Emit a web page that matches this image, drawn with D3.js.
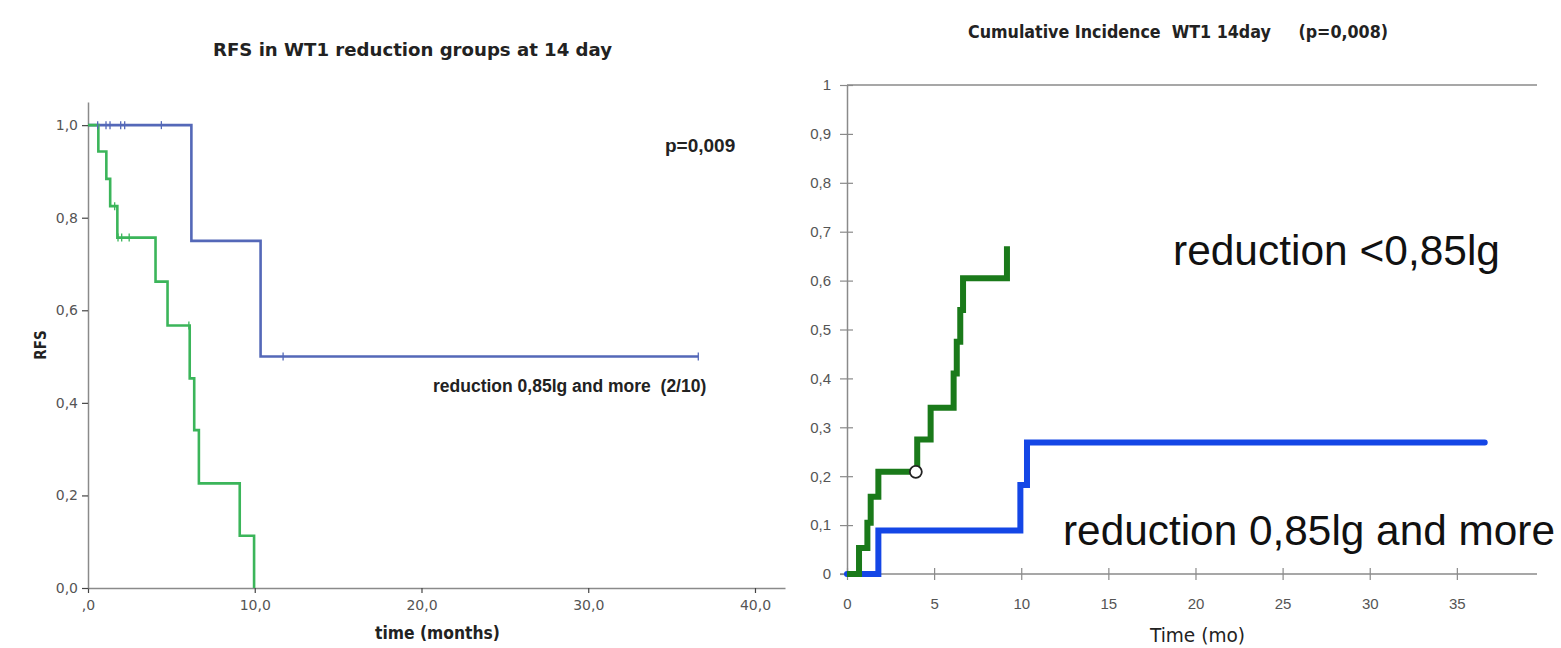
<!DOCTYPE html>
<html>
<head>
<meta charset="utf-8">
<script src="https://cdn.jsdelivr.net/npm/d3@7"></script>
<style>
  body { margin: 0; background: #fff; }
  .narrow { font-family: "Liberation Sans Narrow", "DejaVu Sans Condensed", "Arial Narrow", "DejaVu Sans", sans-serif; }
</style>
</head>
<body>
<svg id="chart" width="1561" height="648"></svg>
<script>
// ---- left panel: RFS (Kaplan-Meier) ----
var rfsBlueTime = [0, 6.2, 10.35, 36.6];
var rfsBlueSurv = [1, 0.75, 0.5, 0.5];
var rfsGreenTime = [0, 0.62, 1.1, 1.33, 1.76, 4.05, 4.77, 6.1, 6.37, 6.65, 9.1, 9.96];
var rfsGreenSurv = [1, 0.943, 0.884, 0.825, 0.757, 0.662, 0.567, 0.453, 0.341, 0.226, 0.113, 0];
// censored observations
var rfsBlueCensT = [0.58, 1.08, 1.32, 1.96, 2.2, 4.4, 11.7, 36.6];
var rfsBlueCensS = [1, 1, 1, 1, 1, 1, 0.5, 0.5];
var rfsGreenCensT = [1.6, 1.8, 2.02, 2.47, 6.05];
var rfsGreenCensS = [0.825, 0.757, 0.757, 0.757, 0.567];
var rfsXTicks = [0, 10, 20, 30, 40];
var rfsXLabels = [",0", "10,0", "20,0", "30,0", "40,0"];
var rfsYTicks = [0, 0.2, 0.4, 0.6, 0.8, 1.0];
var rfsYLabels = ["0,0", "0,2", "0,4", "0,6", "0,8", "1,0"];

// ---- right panel: cumulative incidence ----
var ciGreenTime = [0, 0.69, 1.17, 1.36, 1.8, 4.03, 4.8, 6.12, 6.3, 6.5, 6.66, 9.18];
var ciGreenVal = [0, 0.053, 0.105, 0.158, 0.209, 0.275, 0.34, 0.41, 0.475, 0.54, 0.605, 0.67];
var ciBlueTime = [0, 1.8, 9.95, 10.33, 36.6];
var ciBlueVal = [0, 0.089, 0.182, 0.269, 0.269];
var ciCensT = [3.95];
var ciCensV = [0.209];
var ciXTicks = [0, 5, 10, 15, 20, 25, 30, 35];
var ciYTicks = [0, 0.1, 0.2, 0.3, 0.4, 0.5, 0.6, 0.7, 0.8, 0.9, 1];
var ciYLabels = ["0", "0,1", "0,2", "0,3", "0,4", "0,5", "0,6", "0,7", "0,8", "0,9", "1"];

function zip(a, b) { return a.map(function(d, i) { return [d, b[i]]; }); }

var svg = d3.select("#chart");

// ================= LEFT =================
var x1 = d3.scaleLinear().domain([0, 41.8]).range([88, 785]);
var y1 = d3.scaleLinear().domain([0, 1.05]).range([588, 102]);

var gl = svg.append("g");

var xAx1 = gl.append("g")
  .attr("transform", "translate(0,588)")
  .call(d3.axisBottom(x1).tickValues(rfsXTicks).tickSize(5).tickSizeOuter(0)
    .tickFormat(function(d, i) { return rfsXLabels[i]; }));
var yAx1 = gl.append("g")
  .attr("transform", "translate(88,0)")
  .call(d3.axisLeft(y1).tickValues(rfsYTicks).tickSize(6).tickSizeOuter(0)
    .tickFormat(function(d, i) { return rfsYLabels[i]; }));
[xAx1, yAx1].forEach(function(a) {
  a.attr("font-family", "DejaVu Sans, sans-serif").attr("font-size", 14);
  a.select(".domain").attr("stroke", "#8a8a8a").attr("stroke-width", 1.5);
  a.selectAll(".tick line").attr("stroke", "#444").attr("stroke-width", 1.2);
  a.selectAll("text").attr("fill", "#555");
});
xAx1.selectAll("text").attr("dy", "1.0em");
yAx1.selectAll("text").attr("dx", "-1");

var step = d3.line().curve(d3.curveStepAfter)
  .x(function(d) { return x1(d[0]); }).y(function(d) { return y1(d[1]); });

gl.append("path").datum(zip(rfsBlueTime, rfsBlueSurv))
  .attr("d", step).attr("fill", "none").attr("stroke", "#5468b8").attr("stroke-width", 2.6);
gl.append("path").datum(zip(rfsGreenTime, rfsGreenSurv))
  .attr("d", step).attr("fill", "none").attr("stroke", "#3bb55a").attr("stroke-width", 2.6);

gl.selectAll(".cb").data(zip(rfsBlueCensT, rfsBlueCensS)).enter().append("line")
  .attr("x1", function(d) { return x1(d[0]); }).attr("x2", function(d) { return x1(d[0]); })
  .attr("y1", function(d) { return y1(d[1]) - 4; }).attr("y2", function(d) { return y1(d[1]) + 4; })
  .attr("stroke", "#5468b8").attr("stroke-width", 1.3);
gl.selectAll(".cg").data(zip(rfsGreenCensT, rfsGreenCensS)).enter().append("line")
  .attr("x1", function(d) { return x1(d[0]); }).attr("x2", function(d) { return x1(d[0]); })
  .attr("y1", function(d) { return y1(d[1]) - 4; }).attr("y2", function(d) { return y1(d[1]) + 4; })
  .attr("stroke", "#3bb55a").attr("stroke-width", 1.3);

gl.append("text").attr("class", "narrow").attr("x", 213).attr("y", 56)
  .attr("font-weight", "bold").attr("font-size", 18).attr("fill", "#222")
  .attr("textLength", 399).attr("lengthAdjust", "spacingAndGlyphs")
  .text("RFS in WT1 reduction groups at 14 day");
gl.append("text").attr("x", 665).attr("y", 152)
  .attr("font-family", "Liberation Sans, Arial, sans-serif").attr("font-weight", "bold").attr("font-size", 19).attr("fill", "#222")
  .text("p=0,009");
gl.append("text").attr("x", 433).attr("y", 392)
  .attr("font-family", "Liberation Sans, Arial, sans-serif").attr("font-weight", "bold").attr("font-size", 17.5).attr("fill", "#222")
  .attr("xml:space", "preserve")
  .text("reduction 0,85lg and more  (2/10)");
gl.append("text").attr("class", "narrow").attr("x", 375).attr("y", 639)
  .attr("font-weight", "bold").attr("font-size", 17.5).attr("fill", "#222")
  .attr("textLength", 125).attr("lengthAdjust", "spacingAndGlyphs")
  .text("time (months)");
gl.append("text").attr("class", "narrow")
  .attr("transform", "translate(46,345) rotate(-90)")
  .attr("text-anchor", "middle").attr("font-weight", "bold").attr("font-size", 15).attr("fill", "#222")
  .text("RFS");

// ================= RIGHT =================
var x2 = d3.scaleLinear().domain([0, 39.6]).range([847, 1537]);
var y2 = d3.scaleLinear().domain([0, 1]).range([574, 85]);

var gr = svg.append("g");

// top border line at 1
gr.append("line").attr("x1", x2(0)).attr("x2", x2(39.6)).attr("y1", y2(1)).attr("y2", y2(1))
  .attr("stroke", "#8a8a8a").attr("stroke-width", 1.5);

var xAx2 = gr.append("g")
  .attr("transform", "translate(0,574)")
  .call(d3.axisBottom(x2).tickValues(ciXTicks).tickSize(7).tickSizeOuter(0).tickFormat(d3.format("d")));
var yAx2 = gr.append("g")
  .attr("transform", "translate(847,0)")
  .call(d3.axisLeft(y2).tickValues(ciYTicks).tickSize(7).tickSizeOuter(0)
    .tickFormat(function(d, i) { return ciYLabels[i]; }));
xAx2.select(".domain").attr("d", "M" + (x2(0) - 7) + ",0H" + x2(39.6));
[xAx2, yAx2].forEach(function(a) {
  a.attr("font-family", "Liberation Sans, Arial, sans-serif").attr("font-size", 15);
  a.select(".domain").attr("stroke", "#8a8a8a").attr("stroke-width", 1.5);
  a.selectAll(".tick line").attr("stroke", "#8a8a8a").attr("stroke-width", 1.2);
  a.selectAll("text").attr("fill", "#555");
});
// ticks cross the axis
xAx2.selectAll(".tick line").attr("y1", -6).attr("y2", 6);
yAx2.selectAll(".tick line").attr("x1", -7).attr("x2", 6);
xAx2.selectAll("text").attr("y", 24);
yAx2.selectAll("text").attr("x", -16);

var step2 = d3.line().curve(d3.curveStepAfter)
  .x(function(d) { return x2(d[0]); }).y(function(d) { return y2(d[1]); });

gr.append("path").datum(zip(ciBlueTime, ciBlueVal))
  .attr("d", step2).attr("fill", "none").attr("stroke", "#1446e6").attr("stroke-width", 6)
  .attr("stroke-linecap", "round");
gr.append("path").datum(zip(ciGreenTime, ciGreenVal))
  .attr("d", step2).attr("fill", "none").attr("stroke", "#1a7a1a").attr("stroke-width", 6);

gr.selectAll(".cc").data(zip(ciCensT, ciCensV)).enter().append("circle")
  .attr("cx", function(d) { return x2(d[0]); }).attr("cy", function(d) { return y2(d[1]); })
  .attr("r", 6).attr("fill", "#fff").attr("stroke", "#222").attr("stroke-width", 1.8);

gr.append("text").attr("class", "narrow").attr("x", 968).attr("y", 38)
  .attr("font-weight", "bold").attr("font-size", 18).attr("fill", "#222")
  .attr("xml:space", "preserve")
  .attr("textLength", 420).attr("lengthAdjust", "spacingAndGlyphs")
  .text("Cumulative Incidence  WT1 14day     (p=0,008)");
gr.append("text").attr("x", 1173).attr("y", 265)
  .attr("font-family", "Liberation Sans, Arial, sans-serif").attr("font-size", 42).attr("fill", "#111")
  .attr("textLength", 327).attr("lengthAdjust", "spacingAndGlyphs")
  .text("reduction <0,85lg");
gr.append("text").attr("x", 1063).attr("y", 545)
  .attr("font-family", "Liberation Sans, Arial, sans-serif").attr("font-size", 42).attr("fill", "#111")
  .attr("textLength", 492).attr("lengthAdjust", "spacingAndGlyphs")
  .text("reduction 0,85lg and more");
gr.append("text").attr("class", "narrow").attr("x", 1150).attr("y", 642)
  .attr("font-size", 19).attr("fill", "#222")
  .attr("textLength", 95).attr("lengthAdjust", "spacingAndGlyphs")
  .text("Time (mo)");
</script>
</body>
</html>
